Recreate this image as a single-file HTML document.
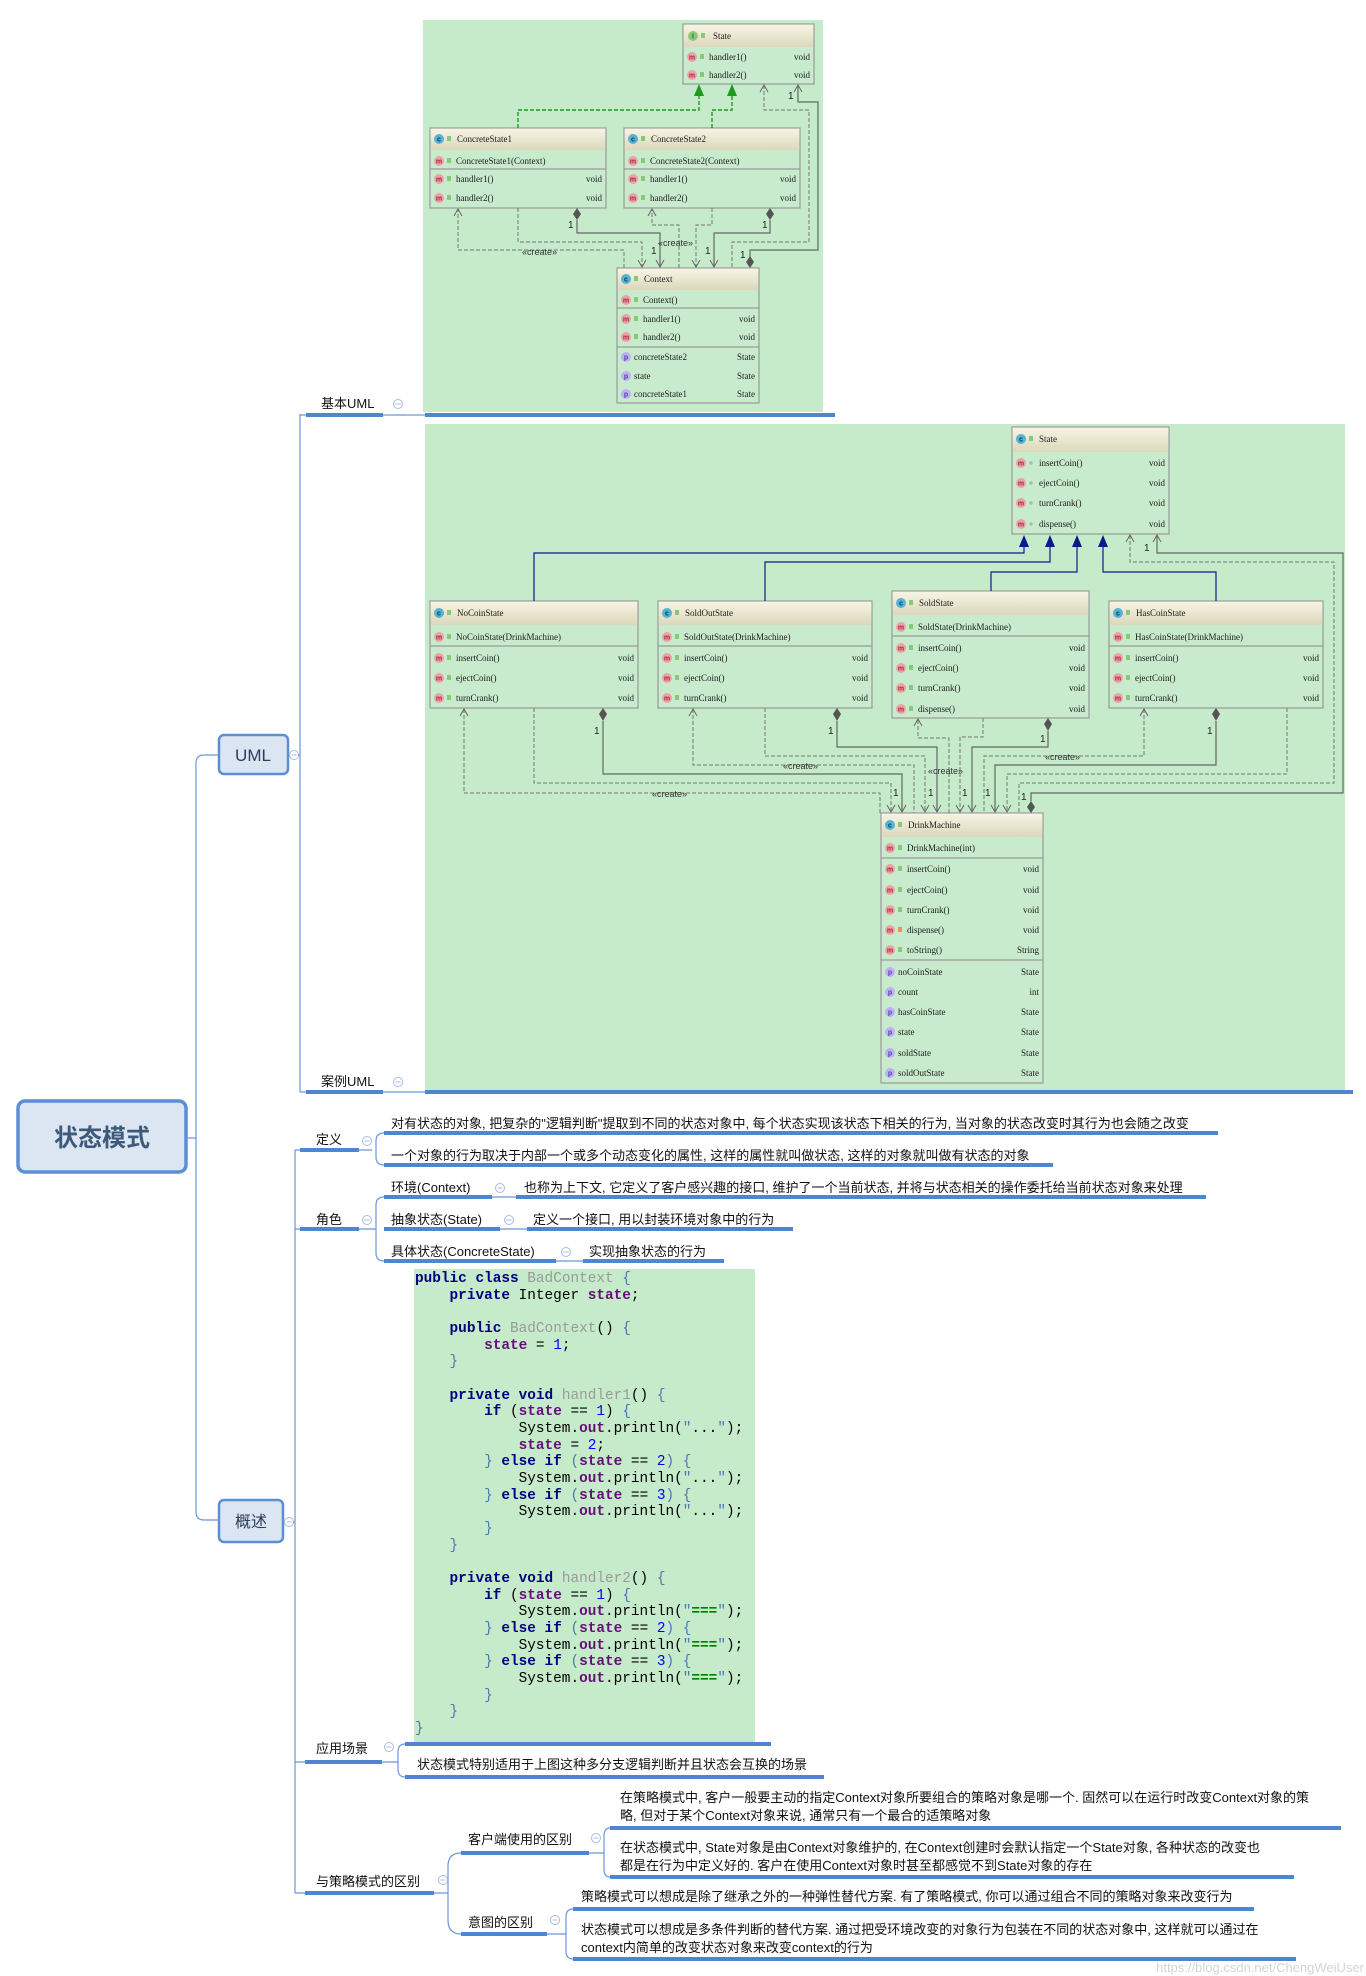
<!DOCTYPE html>
<html><head><meta charset="utf-8">
<style>
html,body{margin:0;padding:0;background:#fff;}
body{width:1366px;height:1976px;position:relative;overflow:hidden;}
svg{position:absolute;left:0;top:0;}
.t{font:9px "Liberation Serif",serif;fill:#1a1a1a;}
.ic{font:bold 7px "Liberation Sans",sans-serif;text-anchor:middle;}
.im{fill:#eda2a8;} .icm{fill:#a02838;}
.ip{fill:#bbb2ef;} .icp{fill:#5a3cb0;}
.icc{fill:#55b3d6;}
.lk{fill:#86c976;}
.bx{fill:#c9ebcd;stroke:#9a9a9a;stroke-width:1.2;}
.sp{stroke:#9a9a9a;stroke-width:1.2;}
.gd{fill:none;stroke:#777;stroke-width:1;stroke-dasharray:4 2;}
.so{fill:none;stroke:#666;stroke-width:1.2;}
.bl{fill:none;stroke:#0a1a8a;stroke-width:1.2;}
.gr{fill:none;stroke:#1f9a1f;stroke-width:1.4;stroke-dasharray:4 2;}
.ar{fill:none;stroke:#666;stroke-width:1;}
.n1{font:10px "Liberation Sans",sans-serif;fill:#222;}
.cr{font:9px "Liberation Sans",sans-serif;fill:#333;}
.mm{font:13px "Liberation Sans","Noto Sans CJK SC",sans-serif;fill:#111;}
.ln{fill:none;stroke:#6c98d8;stroke-width:1.2;}
.ul{stroke:#4f86cf;stroke-width:4;}
.cc{fill:#fff;stroke:#a8bde0;stroke-width:1;}
.code{position:absolute;left:415px;top:1271px;margin:0;font:14.4px/16.67px "Liberation Mono",monospace;color:#000;white-space:pre;}
.k{color:#000080;font-weight:bold}.g{color:#9a9a9a}.s{color:#660e7a;font-weight:bold}.n{color:#0000ff}.b{color:#4a7ab0}.q{color:#008000;font-weight:bold}
</style></head><body>
<svg width="1366" height="1976" viewBox="0 0 1366 1976">
<defs>
<linearGradient id="hg" x1="0" y1="0" x2="0" y2="1"><stop offset="0" stop-color="#f7f4e4"/><stop offset="1" stop-color="#dcd8bc"/></linearGradient>
</defs>
<!-- green areas -->
<rect x="423" y="20" width="400" height="392" fill="#c6ebca"/>
<rect x="425" y="424" width="920" height="666" fill="#c6ebca"/>
<rect x="414" y="1269" width="341" height="473" fill="#c6ebca"/>

<!-- ===== mind map structure ===== -->
<rect x="18" y="1101" width="168" height="71" rx="7" fill="#dce6f2" stroke="#5b8fd4" stroke-width="3.5"/>
<text x="102" y="1146" text-anchor="middle" style="font:bold 24px 'Liberation Sans','Noto Sans CJK SC',sans-serif;fill:#3d5a7a">状态模式</text>
<path class="ln" d="M186 1138 H196 M219 755 H204 Q196 755 196 763 V1512 Q196 1520 204 1520 H219"/>
<rect x="219" y="735" width="69" height="39" rx="5" fill="#dce6f2" stroke="#5b8fd4" stroke-width="2.5"/>
<text x="253" y="761" text-anchor="middle" style="font:17px 'Liberation Sans',sans-serif;fill:#2a3d5a">UML</text>
<rect x="219" y="1500" width="64" height="42" rx="5" fill="#dce6f2" stroke="#5b8fd4" stroke-width="2.5"/>
<text x="251" y="1527" text-anchor="middle" style="font:16px 'Liberation Sans','Noto Sans CJK SC',sans-serif;fill:#2a3d5a">概述</text>
<circle class="cc" cx="294" cy="755" r="4.5"/><line x1="291.5" y1="755" x2="296.5" y2="755" stroke="#a8bde0"/>
<circle class="cc" cx="289" cy="1522" r="4.5"/><line x1="286.5" y1="1522" x2="291.5" y2="1522" stroke="#a8bde0"/>

<!-- UML branch -->
<path class="ln" d="M298 755 H300 M300 414 V1092 M300 415 H306 M300 1092 H306 M383 415 H425 M383 1092 H425"/>
<line class="ul" x1="306" y1="415" x2="383" y2="415"/>
<line class="ul" x1="425" y1="415" x2="835" y2="415"/>
<text class="mm" x="321" y="408">基本UML</text>
<circle class="cc" cx="398" cy="404" r="4.5"/><line x1="395.5" y1="404" x2="400.5" y2="404" stroke="#a8bde0"/>
<line class="ul" x1="306" y1="1092" x2="383" y2="1092"/>
<line class="ul" x1="425" y1="1092" x2="1353" y2="1092"/>
<text class="mm" x="321" y="1086">案例UML</text>
<circle class="cc" cx="398" cy="1082" r="4.5"/><line x1="395.5" y1="1082" x2="400.5" y2="1082" stroke="#a8bde0"/>

<!-- 概述 branch -->
<path class="ln" d="M293 1522 H295 M295 1150 V1893"/>
<!-- 定义 -->
<path class="ln" d="M295 1150 H300 M359 1150 H372 M384 1133 Q376 1133 376 1141 V1157 Q376 1165 384 1165"/>
<line class="ul" x1="300" y1="1150" x2="359" y2="1150"/>
<text class="mm" x="316" y="1144">定义</text>
<circle class="cc" cx="367" cy="1141" r="4.5"/><line x1="364.5" y1="1141" x2="369.5" y2="1141" stroke="#a8bde0"/>
<line class="ul" x1="384" y1="1133" x2="1218" y2="1133"/>
<line class="ul" x1="384" y1="1165" x2="1053" y2="1165"/>
<text class="mm" x="391" y="1128">对有状态的对象, 把复杂的"逻辑判断"提取到不同的状态对象中, 每个状态实现该状态下相关的行为, 当对象的状态改变时其行为也会随之改变</text>
<text class="mm" x="391" y="1160">一个对象的行为取决于内部一个或多个动态变化的属性, 这样的属性就叫做状态, 这样的对象就叫做有状态的对象</text>
<!-- 角色 -->
<path class="ln" d="M295 1229 H300 M359 1229 H376 M384 1197 Q376 1197 376 1205 V1253 Q376 1261 384 1261 M492 1197 H516 M500 1229 H527 M556 1261 H583"/>
<line class="ul" x1="300" y1="1229" x2="359" y2="1229"/>
<text class="mm" x="316" y="1224">角色</text>
<circle class="cc" cx="367" cy="1220" r="4.5"/><line x1="364.5" y1="1220" x2="369.5" y2="1220" stroke="#a8bde0"/>
<line class="ul" x1="384" y1="1197" x2="492" y2="1197"/>
<line class="ul" x1="516" y1="1197" x2="1206" y2="1197"/>
<text class="mm" x="391" y="1192">环境(Context)</text>
<circle class="cc" cx="500" cy="1188" r="4.5"/><line x1="497.5" y1="1188" x2="502.5" y2="1188" stroke="#a8bde0"/>
<text class="mm" x="524" y="1192">也称为上下文, 它定义了客户感兴趣的接口, 维护了一个当前状态, 并将与状态相关的操作委托给当前状态对象来处理</text>
<line class="ul" x1="384" y1="1229" x2="500" y2="1229"/>
<line class="ul" x1="527" y1="1229" x2="793" y2="1229"/>
<text class="mm" x="391" y="1224">抽象状态(State)</text>
<circle class="cc" cx="509" cy="1220" r="4.5"/><line x1="506.5" y1="1220" x2="511.5" y2="1220" stroke="#a8bde0"/>
<text class="mm" x="533" y="1224">定义一个接口, 用以封装环境对象中的行为</text>
<line class="ul" x1="384" y1="1261" x2="556" y2="1261"/>
<line class="ul" x1="583" y1="1261" x2="724" y2="1261"/>
<text class="mm" x="391" y="1256">具体状态(ConcreteState)</text>
<circle class="cc" cx="566" cy="1252" r="4.5"/><line x1="563.5" y1="1252" x2="568.5" y2="1252" stroke="#a8bde0"/>
<text class="mm" x="589" y="1256">实现抽象状态的行为</text>
<!-- 应用场景 -->
<path class="ln" d="M295 1762 H305 M382 1762 H398 M405 1744 Q398 1744 398 1752 V1769 Q398 1777 405 1777"/>
<line class="ul" x1="305" y1="1762" x2="382" y2="1762"/>
<text class="mm" x="316" y="1753">应用场景</text>
<circle class="cc" cx="389" cy="1747" r="4.5"/><line x1="386.5" y1="1747" x2="391.5" y2="1747" stroke="#a8bde0"/>
<line class="ul" x1="405" y1="1744" x2="771" y2="1744"/>
<line class="ul" x1="405" y1="1777" x2="824" y2="1777"/>
<text class="mm" x="417" y="1769">状态模式特别适用于上图这种多分支逻辑判断并且状态会互换的场景</text>
<!-- 与策略模式的区别 -->
<path class="ln" d="M295 1893 H305 M434 1893 H448 M461 1853 Q448 1853 448 1866 V1920 Q448 1934 461 1934 M589 1853 H604 M610 1828 Q604 1828 604 1836 V1869 Q604 1877 610 1877 M547 1934 H566 M573 1909 Q566 1909 566 1917 V1951 Q566 1959 573 1959"/>
<line class="ul" x1="305" y1="1893" x2="434" y2="1893"/>
<text class="mm" x="316" y="1886">与策略模式的区别</text>
<circle class="cc" cx="443" cy="1880" r="4.5"/><line x1="440.5" y1="1880" x2="445.5" y2="1880" stroke="#a8bde0"/>
<line class="ul" x1="461" y1="1853" x2="589" y2="1853"/>
<text class="mm" x="468" y="1844">客户端使用的区别</text>
<circle class="cc" cx="596" cy="1838" r="4.5"/><line x1="593.5" y1="1838" x2="598.5" y2="1838" stroke="#a8bde0"/>
<line class="ul" x1="610" y1="1828" x2="1341" y2="1828"/>
<text class="mm" x="620" y="1802">在策略模式中, 客户一般要主动的指定Context对象所要组合的策略对象是哪一个. 固然可以在运行时改变Context对象的策</text>
<text class="mm" x="620" y="1820">略, 但对于某个Context对象来说, 通常只有一个最合的适策略对象</text>
<line class="ul" x1="610" y1="1877" x2="1294" y2="1877"/>
<text class="mm" x="620" y="1852">在状态模式中, State对象是由Context对象维护的, 在Context创建时会默认指定一个State对象, 各种状态的改变也</text>
<text class="mm" x="620" y="1870">都是在行为中定义好的. 客户在使用Context对象时甚至都感觉不到State对象的存在</text>
<line class="ul" x1="461" y1="1934" x2="547" y2="1934"/>
<text class="mm" x="468" y="1927">意图的区别</text>
<circle class="cc" cx="555" cy="1920" r="4.5"/><line x1="552.5" y1="1920" x2="557.5" y2="1920" stroke="#a8bde0"/>
<line class="ul" x1="573" y1="1909" x2="1254" y2="1909"/>
<text class="mm" x="581" y="1901">策略模式可以想成是除了继承之外的一种弹性替代方案. 有了策略模式, 你可以通过组合不同的策略对象来改变行为</text>
<line class="ul" x1="573" y1="1959" x2="1296" y2="1959"/>
<text class="mm" x="581" y="1934">状态模式可以想成是多条件判断的替代方案. 通过把受环境改变的对象行为包装在不同的状态对象中, 这样就可以通过在</text>
<text class="mm" x="581" y="1952">context内简单的改变状态对象来改变context的行为</text>
<text x="1364" y="1972" text-anchor="end" style="font:13px 'Liberation Sans',sans-serif;fill:#d4d4d4">https://blog.csdn.net/ChengWeiUser</text>

<!-- ===== Top UML ===== -->
<g>
<!-- State interface -->
<rect class="bx" x="683" y="24" width="131" height="60"/>
<rect x="683.6" y="24.6" width="129.8" height="22.4" fill="url(#hg)"/>
<circle cx="693" cy="36" r="5" fill="#8cc87a"/><text class="ic" x="693" y="38.5" fill="#2d6a1e">I</text>
<rect class="lk" x="701" y="33" width="4" height="5"/><text class="t" x="713" y="39">State</text>
<circle class="im" cx="692" cy="57" r="5"/><text class="ic icm" x="692" y="59.5">m</text><rect class="lk" x="700" y="54" width="4" height="5"/><text class="t" x="709" y="60">handler1()</text><text class="t" x="810" y="60" text-anchor="end">void</text>
<circle class="im" cx="692" cy="75" r="5"/><text class="ic icm" x="692" y="77.5">m</text><rect class="lk" x="700" y="72" width="4" height="5"/><text class="t" x="709" y="78">handler2()</text><text class="t" x="810" y="78" text-anchor="end">void</text>
<!-- CS1 -->
<rect class="bx" x="430" y="128" width="176" height="80"/>
<rect x="430.6" y="128.6" width="174.8" height="21.4" fill="url(#hg)"/>
<circle class="icc" cx="439" cy="139" r="5"/><text class="ic" x="439" y="141.5" fill="#135">c</text><rect class="lk" x="447" y="136" width="4" height="5"/><text class="t" x="457" y="142">ConcreteState1</text>
<circle class="im" cx="439" cy="161" r="5"/><text class="ic icm" x="439" y="163.5">m</text><rect class="lk" x="447" y="158" width="4" height="5"/><text class="t" x="456" y="164">ConcreteState1(Context)</text>
<line class="sp" x1="430" y1="169" x2="606" y2="169"/>
<circle class="im" cx="439" cy="179" r="5"/><text class="ic icm" x="439" y="181.5">m</text><rect class="lk" x="447" y="176" width="4" height="5"/><text class="t" x="456" y="182">handler1()</text><text class="t" x="602" y="182" text-anchor="end">void</text>
<circle class="im" cx="439" cy="198" r="5"/><text class="ic icm" x="439" y="200.5">m</text><rect class="lk" x="447" y="195" width="4" height="5"/><text class="t" x="456" y="201">handler2()</text><text class="t" x="602" y="201" text-anchor="end">void</text>
<!-- CS2 -->
<rect class="bx" x="624" y="128" width="176" height="80"/>
<rect x="624.6" y="128.6" width="174.8" height="21.4" fill="url(#hg)"/>
<circle class="icc" cx="633" cy="139" r="5"/><text class="ic" x="633" y="141.5" fill="#135">c</text><rect class="lk" x="641" y="136" width="4" height="5"/><text class="t" x="651" y="142">ConcreteState2</text>
<circle class="im" cx="633" cy="161" r="5"/><text class="ic icm" x="633" y="163.5">m</text><rect class="lk" x="641" y="158" width="4" height="5"/><text class="t" x="650" y="164">ConcreteState2(Context)</text>
<line class="sp" x1="624" y1="169" x2="800" y2="169"/>
<circle class="im" cx="633" cy="179" r="5"/><text class="ic icm" x="633" y="181.5">m</text><rect class="lk" x="641" y="176" width="4" height="5"/><text class="t" x="650" y="182">handler1()</text><text class="t" x="796" y="182" text-anchor="end">void</text>
<circle class="im" cx="633" cy="198" r="5"/><text class="ic icm" x="633" y="200.5">m</text><rect class="lk" x="641" y="195" width="4" height="5"/><text class="t" x="650" y="201">handler2()</text><text class="t" x="796" y="201" text-anchor="end">void</text>
<!-- Context -->
<rect class="bx" x="617" y="268" width="142" height="135"/>
<rect x="617.6" y="268.6" width="140.8" height="21.4" fill="url(#hg)"/>
<circle class="icc" cx="626" cy="279" r="5"/><text class="ic" x="626" y="281.5" fill="#135">c</text><rect class="lk" x="634" y="276" width="4" height="5"/><text class="t" x="644" y="282">Context</text>
<circle class="im" cx="626" cy="300" r="5"/><text class="ic icm" x="626" y="302.5">m</text><rect class="lk" x="634" y="297" width="4" height="5"/><text class="t" x="643" y="303">Context()</text>
<line class="sp" x1="617" y1="308" x2="759" y2="308"/>
<circle class="im" cx="626" cy="319" r="5"/><text class="ic icm" x="626" y="321.5">m</text><rect class="lk" x="634" y="316" width="4" height="5"/><text class="t" x="643" y="322">handler1()</text><text class="t" x="755" y="322" text-anchor="end">void</text>
<circle class="im" cx="626" cy="337" r="5"/><text class="ic icm" x="626" y="339.5">m</text><rect class="lk" x="634" y="334" width="4" height="5"/><text class="t" x="643" y="340">handler2()</text><text class="t" x="755" y="340" text-anchor="end">void</text>
<line class="sp" x1="617" y1="347" x2="759" y2="347"/>
<circle class="ip" cx="626" cy="357" r="5"/><text class="ic icp" x="626" y="359.5">p</text><text class="t" x="634" y="360">concreteState2</text><text class="t" x="755" y="360" text-anchor="end">State</text>
<circle class="ip" cx="626" cy="376" r="5"/><text class="ic icp" x="626" y="378.5">p</text><text class="t" x="634" y="379">state</text><text class="t" x="755" y="379" text-anchor="end">State</text>
<circle class="ip" cx="626" cy="394" r="5"/><text class="ic icp" x="626" y="396.5">p</text><text class="t" x="634" y="397">concreteState1</text><text class="t" x="755" y="397" text-anchor="end">State</text>
<!-- connectors -->
<polyline class="gr" points="518,128 518,110 699,110 699,95"/><polygon points="699,84 694,96 704,96" fill="#1f9a1f"/>
<polyline class="gr" points="712,128 712,110 732,110 732,95"/><polygon points="732,84 727,96 737,96" fill="#1f9a1f"/>
<polyline class="gd" points="764,85 764,110 809,110 809,242 732,242 732,268"/><polyline class="ar" points="760,92 764,85 768,92"/>
<polyline class="so" points="798,85 798,102 818,102 818,250 750,250 750,257"/><polyline class="ar" points="794,92 798,85 802,92"/>
<polygon points="750,256 754,262 750,268 746,262" fill="#555"/>
<text class="n1" x="788" y="99">1</text><text class="n1" x="740" y="258">1</text>
<polygon points="577,208 581,214 577,220 573,214" fill="#555"/>
<polyline class="so" points="577,220 577,233 660,233 660,267"/><polyline class="ar" points="656,260 660,267 664,260"/>
<text class="n1" x="568" y="228">1</text><text class="n1" x="651" y="254">1</text>
<polyline class="gd" points="518,208 518,242 642,242 642,267"/><polyline class="ar" points="638,260 642,267 646,260"/>
<polyline class="gd" points="624,268 624,250 458,250 458,209"/><polyline class="ar" points="454,216 458,209 462,216"/>
<text class="cr" x="522" y="255">«create»</text>
<polygon points="770,208 774,214 770,220 766,214" fill="#555"/>
<polyline class="so" points="770,220 770,233 714,233 714,267"/><polyline class="ar" points="710,260 714,267 718,260"/>
<text class="n1" x="762" y="228">1</text><text class="n1" x="705" y="254">1</text>
<polyline class="gd" points="712,208 712,225 696,225 696,267"/><polyline class="ar" points="692,260 696,267 700,260"/>
<polyline class="gd" points="679,268 679,225 652,225 652,209"/><polyline class="ar" points="648,216 652,209 656,216"/>
<text class="cr" x="658" y="246">«create»</text>
</g>

<!-- ===== Case UML ===== -->
<g>
<!-- State -->
<rect class="bx" x="1012" y="427" width="157" height="107"/>
<rect x="1012.6" y="427.6" width="155.8" height="24.4" fill="url(#hg)"/>
<circle class="icc" cx="1021" cy="439" r="5"/><text class="ic" x="1021" y="441.5" fill="#135">c</text><rect class="lk" x="1029" y="436" width="4" height="5"/><text class="t" x="1039" y="442">State</text>
<circle class="im" cx="1021" cy="463" r="5"/><text class="ic icm" x="1021" y="465.5">m</text><circle cx="1031" cy="463" r="1.8" fill="#a8b8c8"/><text class="t" x="1039" y="466">insertCoin()</text><text class="t" x="1165" y="466" text-anchor="end">void</text>
<circle class="im" cx="1021" cy="483" r="5"/><text class="ic icm" x="1021" y="485.5">m</text><circle cx="1031" cy="483" r="1.8" fill="#a8b8c8"/><text class="t" x="1039" y="486">ejectCoin()</text><text class="t" x="1165" y="486" text-anchor="end">void</text>
<circle class="im" cx="1021" cy="503" r="5"/><text class="ic icm" x="1021" y="505.5">m</text><circle cx="1031" cy="503" r="1.8" fill="#a8b8c8"/><text class="t" x="1039" y="506">turnCrank()</text><text class="t" x="1165" y="506" text-anchor="end">void</text>
<circle class="im" cx="1021" cy="524" r="5"/><text class="ic icm" x="1021" y="526.5">m</text><circle cx="1031" cy="524" r="1.8" fill="#a8b8c8"/><text class="t" x="1039" y="527">dispense()</text><text class="t" x="1165" y="527" text-anchor="end">void</text>
<!-- NoCoin -->
<rect class="bx" x="430" y="601" width="208" height="107"/>
<rect x="430.6" y="601.6" width="206.8" height="23.4" fill="url(#hg)"/>
<circle class="icc" cx="439" cy="613" r="5"/><text class="ic" x="439" y="615.5" fill="#135">c</text><rect class="lk" x="447" y="610" width="4" height="5"/><text class="t" x="457" y="616">NoCoinState</text>
<circle class="im" cx="439" cy="637" r="5"/><text class="ic icm" x="439" y="639.5">m</text><rect class="lk" x="447" y="634" width="4" height="5"/><text class="t" x="456" y="640">NoCoinState(DrinkMachine)</text>
<line class="sp" x1="430" y1="646" x2="638" y2="646"/>
<circle class="im" cx="439" cy="658" r="5"/><text class="ic icm" x="439" y="660.5">m</text><rect class="lk" x="447" y="655" width="4" height="5"/><text class="t" x="456" y="661">insertCoin()</text><text class="t" x="634" y="661" text-anchor="end">void</text>
<circle class="im" cx="439" cy="678" r="5"/><text class="ic icm" x="439" y="680.5">m</text><rect class="lk" x="447" y="675" width="4" height="5"/><text class="t" x="456" y="681">ejectCoin()</text><text class="t" x="634" y="681" text-anchor="end">void</text>
<circle class="im" cx="439" cy="698" r="5"/><text class="ic icm" x="439" y="700.5">m</text><rect class="lk" x="447" y="695" width="4" height="5"/><text class="t" x="456" y="701">turnCrank()</text><text class="t" x="634" y="701" text-anchor="end">void</text>
<!-- SoldOut -->
<rect class="bx" x="658" y="601" width="214" height="107"/>
<rect x="658.6" y="601.6" width="212.8" height="23.4" fill="url(#hg)"/>
<circle class="icc" cx="667" cy="613" r="5"/><text class="ic" x="667" y="615.5" fill="#135">c</text><rect class="lk" x="675" y="610" width="4" height="5"/><text class="t" x="685" y="616">SoldOutState</text>
<circle class="im" cx="667" cy="637" r="5"/><text class="ic icm" x="667" y="639.5">m</text><rect class="lk" x="675" y="634" width="4" height="5"/><text class="t" x="684" y="640">SoldOutState(DrinkMachine)</text>
<line class="sp" x1="658" y1="646" x2="872" y2="646"/>
<circle class="im" cx="667" cy="658" r="5"/><text class="ic icm" x="667" y="660.5">m</text><rect class="lk" x="675" y="655" width="4" height="5"/><text class="t" x="684" y="661">insertCoin()</text><text class="t" x="868" y="661" text-anchor="end">void</text>
<circle class="im" cx="667" cy="678" r="5"/><text class="ic icm" x="667" y="680.5">m</text><rect class="lk" x="675" y="675" width="4" height="5"/><text class="t" x="684" y="681">ejectCoin()</text><text class="t" x="868" y="681" text-anchor="end">void</text>
<circle class="im" cx="667" cy="698" r="5"/><text class="ic icm" x="667" y="700.5">m</text><rect class="lk" x="675" y="695" width="4" height="5"/><text class="t" x="684" y="701">turnCrank()</text><text class="t" x="868" y="701" text-anchor="end">void</text>
<!-- Sold -->
<rect class="bx" x="892" y="591" width="197" height="127"/>
<rect x="892.6" y="591.6" width="195.8" height="23.4" fill="url(#hg)"/>
<circle class="icc" cx="901" cy="603" r="5"/><text class="ic" x="901" y="605.5" fill="#135">c</text><rect class="lk" x="909" y="600" width="4" height="5"/><text class="t" x="919" y="606">SoldState</text>
<circle class="im" cx="901" cy="627" r="5"/><text class="ic icm" x="901" y="629.5">m</text><rect class="lk" x="909" y="624" width="4" height="5"/><text class="t" x="918" y="630">SoldState(DrinkMachine)</text>
<line class="sp" x1="892" y1="636" x2="1089" y2="636"/>
<circle class="im" cx="901" cy="648" r="5"/><text class="ic icm" x="901" y="650.5">m</text><rect class="lk" x="909" y="645" width="4" height="5"/><text class="t" x="918" y="651">insertCoin()</text><text class="t" x="1085" y="651" text-anchor="end">void</text>
<circle class="im" cx="901" cy="668" r="5"/><text class="ic icm" x="901" y="670.5">m</text><rect class="lk" x="909" y="665" width="4" height="5"/><text class="t" x="918" y="671">ejectCoin()</text><text class="t" x="1085" y="671" text-anchor="end">void</text>
<circle class="im" cx="901" cy="688" r="5"/><text class="ic icm" x="901" y="690.5">m</text><rect class="lk" x="909" y="685" width="4" height="5"/><text class="t" x="918" y="691">turnCrank()</text><text class="t" x="1085" y="691" text-anchor="end">void</text>
<circle class="im" cx="901" cy="709" r="5"/><text class="ic icm" x="901" y="711.5">m</text><rect class="lk" x="909" y="706" width="4" height="5"/><text class="t" x="918" y="712">dispense()</text><text class="t" x="1085" y="712" text-anchor="end">void</text>
<!-- HasCoin -->
<rect class="bx" x="1109" y="601" width="214" height="107"/>
<rect x="1109.6" y="601.6" width="212.8" height="23.4" fill="url(#hg)"/>
<circle class="icc" cx="1118" cy="613" r="5"/><text class="ic" x="1118" y="615.5" fill="#135">c</text><rect class="lk" x="1126" y="610" width="4" height="5"/><text class="t" x="1136" y="616">HasCoinState</text>
<circle class="im" cx="1118" cy="637" r="5"/><text class="ic icm" x="1118" y="639.5">m</text><rect class="lk" x="1126" y="634" width="4" height="5"/><text class="t" x="1135" y="640">HasCoinState(DrinkMachine)</text>
<line class="sp" x1="1109" y1="646" x2="1323" y2="646"/>
<circle class="im" cx="1118" cy="658" r="5"/><text class="ic icm" x="1118" y="660.5">m</text><rect class="lk" x="1126" y="655" width="4" height="5"/><text class="t" x="1135" y="661">insertCoin()</text><text class="t" x="1319" y="661" text-anchor="end">void</text>
<circle class="im" cx="1118" cy="678" r="5"/><text class="ic icm" x="1118" y="680.5">m</text><rect class="lk" x="1126" y="675" width="4" height="5"/><text class="t" x="1135" y="681">ejectCoin()</text><text class="t" x="1319" y="681" text-anchor="end">void</text>
<circle class="im" cx="1118" cy="698" r="5"/><text class="ic icm" x="1118" y="700.5">m</text><rect class="lk" x="1126" y="695" width="4" height="5"/><text class="t" x="1135" y="701">turnCrank()</text><text class="t" x="1319" y="701" text-anchor="end">void</text>
<!-- DrinkMachine -->
<rect class="bx" x="881" y="813" width="162" height="270"/>
<rect x="881.6" y="813.6" width="160.8" height="23.4" fill="url(#hg)"/>
<circle class="icc" cx="890" cy="825" r="5"/><text class="ic" x="890" y="827.5" fill="#135">c</text><rect class="lk" x="898" y="822" width="4" height="5"/><text class="t" x="908" y="828">DrinkMachine</text>
<circle class="im" cx="890" cy="848" r="5"/><text class="ic icm" x="890" y="850.5">m</text><rect class="lk" x="898" y="845" width="4" height="5"/><text class="t" x="907" y="851">DrinkMachine(int)</text>
<line class="sp" x1="881" y1="858" x2="1043" y2="858"/>
<circle class="im" cx="890" cy="869" r="5"/><text class="ic icm" x="890" y="871.5">m</text><rect class="lk" x="898" y="866" width="4" height="5"/><text class="t" x="907" y="872">insertCoin()</text><text class="t" x="1039" y="872" text-anchor="end">void</text>
<circle class="im" cx="890" cy="890" r="5"/><text class="ic icm" x="890" y="892.5">m</text><rect class="lk" x="898" y="887" width="4" height="5"/><text class="t" x="907" y="893">ejectCoin()</text><text class="t" x="1039" y="893" text-anchor="end">void</text>
<circle class="im" cx="890" cy="910" r="5"/><text class="ic icm" x="890" y="912.5">m</text><rect class="lk" x="898" y="907" width="4" height="5"/><text class="t" x="907" y="913">turnCrank()</text><text class="t" x="1039" y="913" text-anchor="end">void</text>
<circle class="im" cx="890" cy="930" r="5"/><text class="ic icm" x="890" y="932.5">m</text><rect x="898" y="927" width="4" height="5" fill="#e8965a"/><text class="t" x="907" y="933">dispense()</text><text class="t" x="1039" y="933" text-anchor="end">void</text>
<circle class="im" cx="890" cy="950" r="5"/><text class="ic icm" x="890" y="952.5">m</text><rect class="lk" x="898" y="947" width="4" height="5"/><text class="t" x="907" y="953">toString()</text><text class="t" x="1039" y="953" text-anchor="end">String</text>
<line class="sp" x1="881" y1="960" x2="1043" y2="960"/>
<circle class="ip" cx="890" cy="972" r="5"/><text class="ic icp" x="890" y="974.5">p</text><text class="t" x="898" y="975">noCoinState</text><text class="t" x="1039" y="975" text-anchor="end">State</text>
<circle class="ip" cx="890" cy="992" r="5"/><text class="ic icp" x="890" y="994.5">p</text><text class="t" x="898" y="995">count</text><text class="t" x="1039" y="995" text-anchor="end">int</text>
<circle class="ip" cx="890" cy="1012" r="5"/><text class="ic icp" x="890" y="1014.5">p</text><text class="t" x="898" y="1015">hasCoinState</text><text class="t" x="1039" y="1015" text-anchor="end">State</text>
<circle class="ip" cx="890" cy="1032" r="5"/><text class="ic icp" x="890" y="1034.5">p</text><text class="t" x="898" y="1035">state</text><text class="t" x="1039" y="1035" text-anchor="end">State</text>
<circle class="ip" cx="890" cy="1053" r="5"/><text class="ic icp" x="890" y="1055.5">p</text><text class="t" x="898" y="1056">soldState</text><text class="t" x="1039" y="1056" text-anchor="end">State</text>
<circle class="ip" cx="890" cy="1073" r="5"/><text class="ic icp" x="890" y="1075.5">p</text><text class="t" x="898" y="1076">soldOutState</text><text class="t" x="1039" y="1076" text-anchor="end">State</text>

<!-- inheritance -->
<polyline class="bl" points="534,601 534,553 1024,553 1024,546"/><polygon points="1024,535 1019,547 1029,547" fill="#0a1a8a"/>
<polyline class="bl" points="765,601 765,562 1050,562 1050,546"/><polygon points="1050,535 1045,547 1055,547" fill="#0a1a8a"/>
<polyline class="bl" points="991,591 991,572 1077,572 1077,546"/><polygon points="1077,535 1072,547 1082,547" fill="#0a1a8a"/>
<polyline class="bl" points="1216,601 1216,572 1103,572 1103,546"/><polygon points="1103,535 1098,547 1108,547" fill="#0a1a8a"/>
<!-- State <-> DM -->
<polyline class="gd" points="1130,535 1130,562 1334,562 1334,783 1019,783 1019,813"/><polyline class="ar" points="1126,542 1130,535 1134,542"/>
<polyline class="so" points="1157,535 1157,553 1343,553 1343,793 1031,793 1031,801"/><polyline class="ar" points="1153,542 1157,535 1161,542"/>
<text class="n1" x="1144" y="551">1</text>
<polygon points="1031,801 1035,807 1031,813 1027,807" fill="#555"/><text class="n1" x="1021" y="800">1</text>
<!-- NoCoin -->
<polyline class="gd" points="464,709 464,793 880,793 880,813"/><polyline class="ar" points="460,716 464,709 468,716"/>
<text class="cr" x="652" y="797">«create»</text>
<polyline class="gd" points="534,708 534,783 891,783 891,812"/><polyline class="ar" points="887,805 891,812 895,805"/>
<polygon points="603,708 607,714 603,721 599,714" fill="#555"/>
<polyline class="so" points="603,721 603,774 902,774 902,812"/><polyline class="ar" points="898,805 902,812 906,805"/>
<text class="n1" x="594" y="734">1</text><text class="n1" x="893" y="796">1</text>
<!-- SoldOut -->
<polyline class="gd" points="693,709 693,765 914,765 914,813"/><polyline class="ar" points="689,716 693,709 697,716"/>
<text class="cr" x="783" y="769">«create»</text>
<polyline class="gd" points="765,708 765,756 925,756 925,812"/><polyline class="ar" points="921,805 925,812 929,805"/>
<polygon points="837,708 841,714 837,721 833,714" fill="#555"/>
<polyline class="so" points="837,721 837,747 937,747 937,812"/><polyline class="ar" points="933,805 937,812 941,805"/>
<text class="n1" x="828" y="734">1</text><text class="n1" x="928" y="796">1</text>
<!-- Sold -->
<polyline class="gd" points="949,813 949,738 918,738 918,719"/><polyline class="ar" points="914,726 918,719 922,726"/>
<text class="cr" x="928" y="774">«create»</text>
<polyline class="gd" points="983,718 983,737 960,737 960,812"/><polyline class="ar" points="956,805 960,812 964,805"/>
<polygon points="1048,718 1052,724 1048,731 1044,724" fill="#555"/>
<polyline class="so" points="1048,731 1048,747 972,747 972,812"/><polyline class="ar" points="968,805 972,812 976,805"/>
<text class="n1" x="1040" y="742">1</text><text class="n1" x="962" y="796">1</text>
<!-- HasCoin -->
<polyline class="gd" points="1144,709 1144,756 984,756 984,813"/><polyline class="ar" points="1140,716 1144,709 1148,716"/>
<text class="cr" x="1045" y="760">«create»</text>
<polygon points="1216,708 1220,714 1216,721 1212,714" fill="#555"/>
<polyline class="so" points="1216,721 1216,765 995,765 995,812"/><polyline class="ar" points="991,805 995,812 999,805"/>
<text class="n1" x="1207" y="734">1</text><text class="n1" x="985" y="796">1</text>
<polyline class="gd" points="1287,708 1287,774 1007,774 1007,812"/><polyline class="ar" points="1003,805 1007,812 1011,805"/>
</g>
</svg>
<pre class="code"><span class="k">public class</span> <span class="g">BadContext</span> <span class="b">{</span>
    <span class="k">private</span> Integer <span class="s">state</span>;

    <span class="k">public</span> <span class="g">BadContext</span>() <span class="b">{</span>
        <span class="s">state</span> = <span class="n">1</span>;
    <span class="b">}</span>

    <span class="k">private void</span> <span class="g">handler1</span>() <span class="b">{</span>
        <span class="k">if</span> (<span class="s">state</span> == <span class="n">1</span>) <span class="b">{</span>
            System.<span class="s">out</span>.println(<span class="b">"</span>...<span class="b">"</span>);
            <span class="s">state</span> = <span class="n">2</span>;
        <span class="b">}</span> <span class="k">else if</span> <span class="b">(</span><span class="s">state</span> == <span class="n">2</span><span class="b">)</span> <span class="b">{</span>
            System.<span class="s">out</span>.println(<span class="b">"</span>...<span class="b">"</span>);
        <span class="b">}</span> <span class="k">else if</span> <span class="b">(</span><span class="s">state</span> == <span class="n">3</span><span class="b">)</span> <span class="b">{</span>
            System.<span class="s">out</span>.println(<span class="b">"</span>...<span class="b">"</span>);
        <span class="b">}</span>
    <span class="b">}</span>

    <span class="k">private void</span> <span class="g">handler2</span>() <span class="b">{</span>
        <span class="k">if</span> (<span class="s">state</span> == <span class="n">1</span>) <span class="b">{</span>
            System.<span class="s">out</span>.println(<span class="b">"</span><span class="q">===</span><span class="b">"</span>);
        <span class="b">}</span> <span class="k">else if</span> <span class="b">(</span><span class="s">state</span> == <span class="n">2</span><span class="b">)</span> <span class="b">{</span>
            System.<span class="s">out</span>.println(<span class="b">"</span><span class="q">===</span><span class="b">"</span>);
        <span class="b">}</span> <span class="k">else if</span> <span class="b">(</span><span class="s">state</span> == <span class="n">3</span><span class="b">)</span> <span class="b">{</span>
            System.<span class="s">out</span>.println(<span class="b">"</span><span class="q">===</span><span class="b">"</span>);
        <span class="b">}</span>
    <span class="b">}</span>
<span class="b">}</span></pre>
</body></html>
